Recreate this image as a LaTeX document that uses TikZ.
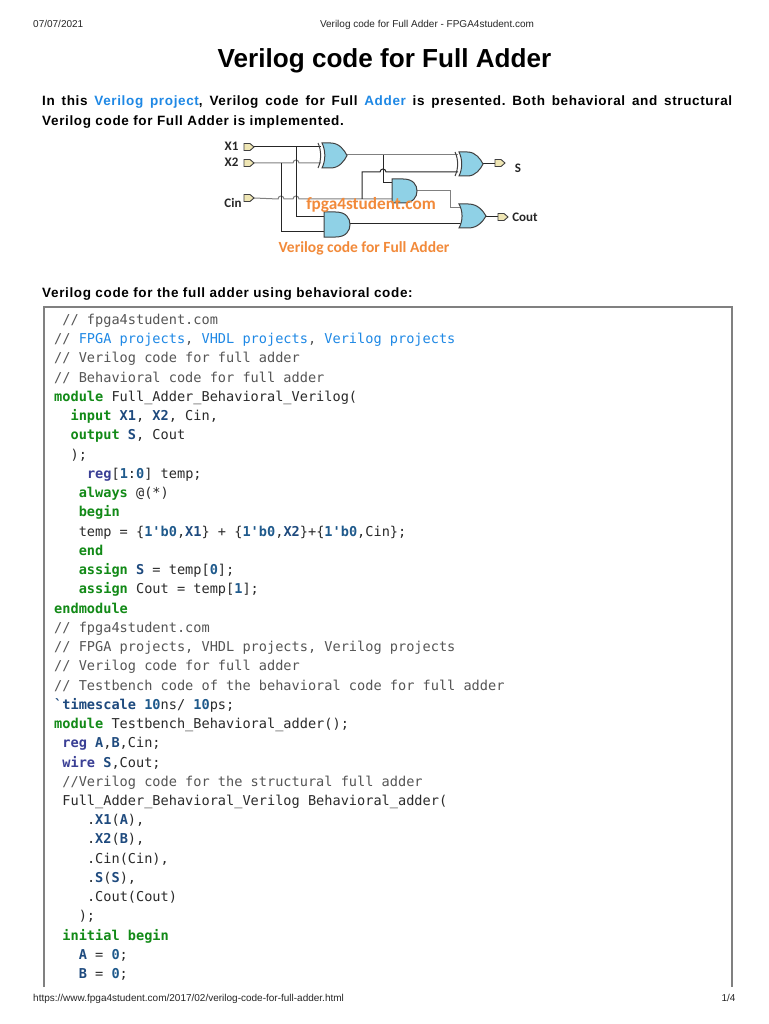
\documentclass[tikz,border=0pt]{standalone}
\usepackage{fontspec}
\setmainfont{Liberation Sans}
\newfontfamily\parafont[LetterSpace=4.8]{Liberation Sans}
\newfontfamily\codefont{DejaVu Sans Mono}
\newfontfamily\labelfont{Carlito}
\definecolor{kw}{HTML}{128A17}
\definecolor{lnk}{HTML}{1E88E5}
\definecolor{num}{HTML}{1F5A8C}
\definecolor{idf}{HTML}{1E4A7E}
\definecolor{typ}{HTML}{3A3F95}
\definecolor{cmt}{HTML}{555555}
\definecolor{txt}{HTML}{2A2A2A}
\definecolor{gatefill}{HTML}{8FD1E6}
\definecolor{pinfill}{HTML}{EFE6B4}
\definecolor{wm}{HTML}{F28A3A}
\newcommand{\kw}[1]{\textcolor{kw}{\bfseries #1}}
\newcommand{\lk}[1]{\textcolor{lnk}{#1}}
\newcommand{\nm}[1]{\textcolor{num}{\bfseries #1}}
\newcommand{\idf}[1]{\textcolor{idf}{\bfseries #1}}
\newcommand{\ty}[1]{\textcolor{typ}{\bfseries #1}}
\newcommand{\cm}[1]{\textcolor{cmt}{#1}}
\newcommand{\codeline}[3]{\node[codetext] (l#1) at ({54+8.2*#2},{324.5+19.24*(#1-1)}) {#3};}
% gate bodies: left, top, width, height
\newcommand{\andbody}[4]{\draw[gate] (#1,#2) -- ({#1+0.45*#3},#2) .. controls ({#1+0.85*#3},#2) and ({#1+#3},{#2+0.25*#4}) .. ({#1+#3},{#2+0.5*#4}) .. controls ({#1+#3},{#2+0.75*#4}) and ({#1+0.85*#3},{#2+#4}) .. ({#1+0.45*#3},{#2+#4}) -- (#1,{#2+#4}) -- cycle;}
\newcommand{\orbody}[4]{\draw[gate] (#1,#2) -- ({#1+0.35*#3},#2) .. controls ({#1+0.7*#3},#2) and ({#1+0.9*#3},{#2+0.3*#4}) .. ({#1+#3},{#2+0.5*#4}) .. controls ({#1+0.9*#3},{#2+0.7*#4}) and ({#1+0.7*#3},{#2+#4}) .. ({#1+0.35*#3},{#2+#4}) -- (#1,{#2+#4}) .. controls ({#1+0.15*#3},{#2+0.7*#4}) and ({#1+0.15*#3},{#2+0.3*#4}) .. (#1,#2) -- cycle;}
\newcommand{\xorarc}[3]{\draw[gateline] (#1,#2) .. controls ({#1+3.5},{#2+0.3*#3}) and ({#1+3.5},{#2+0.7*#3}) .. (#1,{#2+#3});}
\newcommand{\pinshape}[2]{\draw[pin] (#1,{#2-3.5}) -- ({#1+6},{#2-3.5}) -- ({#1+10},#2) -- ({#1+6},{#2+3.5}) -- (#1,{#2+3.5}) -- cycle;}
\newcommand{\hump}{arc[start angle=180,end angle=360,radius=3]}
\begin{document}
\begin{tikzpicture}[x=1pt,y=-1pt,
  hdr/.style={inner sep=0pt,anchor=base west,font=\fontsize{10}{12}\selectfont,text=black!85},
  para/.style={inner sep=0pt,anchor=base west,font=\parafont\bfseries\fontsize{13.5}{16}\selectfont\frenchspacing},
  codetext/.style={inner sep=0pt,anchor=base west,font=\codefont\fontsize{13.6}{16}\selectfont,text=txt},
  gate/.style={draw=black!75,fill=gatefill,line width=1pt},
  gateline/.style={draw=black!75,line width=1pt},
  pin/.style={draw=black!75,fill=pinfill,line width=0.9pt},
  wire/.style={draw=black!85,line width=1pt},
  wiregray/.style={draw=black!50,line width=1pt},
  pinlabel/.style={inner sep=0pt,font=\labelfont\bfseries\fontsize{13}{15}\selectfont,text=black!85}
]
\useasboundingbox (0,0) rectangle (768,1024);
\fill[white] (0,0) rectangle (768,1024);
% page header and footer
\node[hdr] (date) at (33,28) {07/07/2021};
\node[hdr,anchor=base] (head) at (427,28) {Verilog code for Full Adder - FPGA4student.com};
\node[inner sep=0pt,anchor=base,font=\bfseries\fontsize{26.1}{30}\selectfont] (title) at (384.5,67.5) {Verilog code for Full Adder};
\node[para] (p1) at (42,106) {\makebox[690pt][s]{In this \textcolor{lnk}{Verilog project}, Verilog code for Full \textcolor{lnk}{Adder} is presented. Both behavioral and structural}};
\node[para] (p2) at (42,125.5) {Verilog code for Full Adder is implemented.};
\node[para] (h2) at (42,297) {Verilog code for the full adder using behavioral code:};
\node[hdr] (url) at (33,1001) {https://www.fpga4student.com/2017/02/verilog-code-for-full-adder.html};
\node[hdr,anchor=base] (pg) at (728.5,1001) {1/4};
% code box
\draw[draw=black!50,line width=2pt] (43.5,987) -- (43.5,306.5) -- (732,306.5) -- (732,987);
% gate ports
\coordinate (x1p) at (254,147);
\coordinate (x2p) at (254,163);
\coordinate (cinp) at (254,198);
\coordinate (xa) at (321,147);
\coordinate (xb) at (321,163);
\coordinate (xo) at (347,155);
\coordinate (ya) at (458,155);
\coordinate (yb) at (458,172);
\coordinate (yo) at (483,164);
\coordinate (sp) at (495,164);
\coordinate (aa) at (392,183);
\coordinate (ab) at (392,199);
\coordinate (ao) at (417,191);
\coordinate (ba) at (324,217);
\coordinate (bb) at (324,232);
\coordinate (bo) at (350,224);
\coordinate (oa) at (461,208);
\coordinate (ob) at (461,224);
\coordinate (oo) at (486,217);
\coordinate (cp) at (498,217);
\coordinate (v1) at (296,147);
\coordinate (v2) at (281,163);
\coordinate (v3) at (362,199);
\coordinate (v4) at (383,155);
\coordinate (v5) at (450,191);
% wires
\draw[wire] (x1p) -- (xa);
\draw[wiregray] (x2p) -- ([xshift=-3pt]v1|-x2p) \hump -- (xb);
\draw[wiregray] (cinp) -- ([xshift=-3pt]v2|-ab) \hump -- ([xshift=-3pt]v1|-ab) \hump -- (ab);
\draw[wire] (v1) -- (v1|-ba) -- (ba);
\draw[wire] (v2) -- (v2|-bb) -- (bb);
\draw[wiregray] (xo) -- (ya);
\draw[wire] (v3) -- (v3|-yb) -- ([xshift=-3pt]v4|-yb) \hump -- (yb);
\draw[wire] (v4) -- (v4|-aa) -- (aa);
\draw[wiregray] (ao) -- (v5) -- (v5|-oa) -- (oa);
\draw[wire] (bo) -- (ob);
\draw[wire] (oo) -- (cp);
\draw[wire] (yo) -- (sp);
% gates
\orbody{322}{143}{25}{25}
\xorarc{318}{143}{25}
\orbody{459}{152}{24}{24}
\xorarc{455}{152}{24}
\andbody{392}{179}{25}{24}
\andbody{324}{212}{26}{25}
\orbody{459}{204}{27}{24}
% pins
\pinshape{244}{147}
\pinshape{244}{163}
\pinshape{244}{198}
\pinshape{495}{163}
\pinshape{498}{217}
\node[pinlabel] (lx1) at (231.5,146) {X1};
\node[pinlabel] (lx2) at (231.5,162) {X2};
\node[pinlabel] (lcin) at (233,203) {Cin};
\node[pinlabel] (ls) at (518,168) {S};
\node[pinlabel] (lcout) at (525,217) {Cout};
\node[inner sep=0pt,font=\labelfont\bfseries\fontsize{17.2}{20}\selectfont,text=wm] (wm1) at (371,205) {fpga4student.com};
\node[inner sep=0pt,font=\labelfont\bfseries\fontsize{15.5}{18}\selectfont,text=wm] (wm2) at (364,248) {Verilog code for Full Adder};
% code
\codeline{1}{1}{\cm{// fpga4student.com}}
\codeline{2}{0}{\cm{// }\lk{FPGA projects}\cm{, }\lk{VHDL projects}\cm{, }\lk{Verilog projects}}
\codeline{3}{0}{\cm{// Verilog code for full adder}}
\codeline{4}{0}{\cm{// Behavioral code for full adder}}
\codeline{5}{0}{\kw{module} Full\_Adder\_Behavioral\_Verilog(}
\codeline{6}{2}{\kw{input} \idf{X1}, \idf{X2}, Cin,}
\codeline{7}{2}{\kw{output} \idf{S}, Cout}
\codeline{8}{2}{);}
\codeline{9}{4}{\ty{reg}[\nm{1}:\nm{0}] temp;}
\codeline{10}{3}{\kw{always} @(*)}
\codeline{11}{3}{\kw{begin}}
\codeline{12}{3}{temp = \{\nm{1'b0},\idf{X1}\} + \{\nm{1'b0},\idf{X2}\}+\{\nm{1'b0},Cin\};}
\codeline{13}{3}{\kw{end}}
\codeline{14}{3}{\kw{assign} \idf{S} = temp[\nm{0}];}
\codeline{15}{3}{\kw{assign} Cout = temp[\nm{1}];}
\codeline{16}{0}{\kw{endmodule}}
\codeline{17}{0}{\cm{// fpga4student.com}}
\codeline{18}{0}{\cm{// FPGA projects, VHDL projects, Verilog projects}}
\codeline{19}{0}{\cm{// Verilog code for full adder}}
\codeline{20}{0}{\cm{// Testbench code of the behavioral code for full adder}}
\codeline{21}{0}{\idf{`timescale} \nm{10}ns/ \nm{10}ps;}
\codeline{22}{0}{\kw{module} Testbench\_Behavioral\_adder();}
\codeline{23}{1}{\ty{reg} \idf{A},\idf{B},Cin;}
\codeline{24}{1}{\ty{wire} \idf{S},Cout;}
\codeline{25}{1}{\cm{//Verilog code for the structural full adder}}
\codeline{26}{1}{Full\_Adder\_Behavioral\_Verilog Behavioral\_adder(}
\codeline{27}{4}{.\idf{X1}(\idf{A}),}
\codeline{28}{4}{.\idf{X2}(\idf{B}),}
\codeline{29}{4}{.Cin(Cin),}
\codeline{30}{4}{.\idf{S}(\idf{S}),}
\codeline{31}{4}{.Cout(Cout)}
\codeline{32}{3}{);}
\codeline{33}{1}{\kw{initial begin}}
\codeline{34}{3}{\idf{A} = \nm{0};}
\codeline{35}{3}{\idf{B} = \nm{0};}
\end{tikzpicture}
\end{document}
